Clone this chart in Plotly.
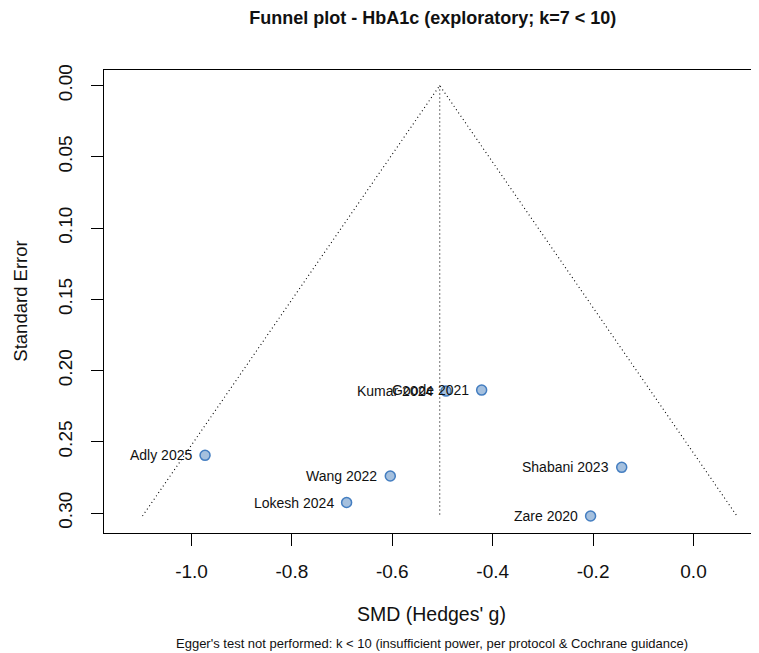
import plotly.graph_objects as go

# ---- data ----
studies = ["Adly 2025", "Wang 2022", "Lokesh 2024", "Kumar 2024", "Goode 2021", "Shabani 2023", "Zare 2020"]
smd = [-0.973, -0.604, -0.691, -0.493, -0.422, -0.143, -0.205]
se = [0.2595, 0.2740, 0.2926, 0.2144, 0.2137, 0.2679, 0.3021]
pooled_smd = -0.5055
z_crit = 1.96
x_ticks = [-1.0, -0.8, -0.6, -0.4, -0.2, 0.0]
y_ticks = [0.00, 0.05, 0.10, 0.15, 0.20, 0.25, 0.30]

title_text = "Funnel plot - HbA1c (exploratory; k=7 < 10)"
x_title = "SMD (Hedges' g)"
y_title = "Standard Error"
footnote = "Egger's test not performed: k < 10 (insufficient power, per protocol & Cochrane guidance)"

FONT = "Liberation Sans, Arial, Helvetica, sans-serif"

se_max = max(se)
funnel_x = [pooled_smd - z_crit * se_max, pooled_smd, pooled_smd + z_crit * se_max]
funnel_y = [se_max, 0.0, se_max]

fig = go.Figure()

# funnel (pseudo 95% CI) lines
fig.add_trace(go.Scatter(
    x=funnel_x, y=funnel_y, mode="lines",
    line=dict(color="black", width=1.1, dash="1px,3px"),
    hoverinfo="skip", showlegend=False))
# pooled estimate vertical line
fig.add_trace(go.Scatter(
    x=[pooled_smd, pooled_smd], y=[0.0, se_max], mode="lines",
    line=dict(color="black", width=1.1, dash="1px,3px"),
    hoverinfo="skip", showlegend=False))

# study points
fig.add_trace(go.Scatter(
    x=smd, y=se, mode="markers", text=studies,
    marker=dict(size=10, color="rgba(75,130,190,0.5)",
                line=dict(color="rgba(60,120,190,0.95)", width=1.5)),
    showlegend=False))

annotations = []
for name, xv, yv in zip(studies, smd, se):
    annotations.append(dict(
        x=xv, y=yv, xref="x", yref="y", text=name, showarrow=False,
        xanchor="right", yanchor="middle", xshift=-11,
        font=dict(family=FONT, size=14, color="#111111")))

# axis titles and footnote (paper coords; plot area 655 x 463 px)
annotations.append(dict(
    x=0.5, y=-0.175, xref="paper", yref="paper", text=x_title, showarrow=False,
    xanchor="center", yanchor="middle", font=dict(family=FONT, size=19.5, color="#111111")))
annotations.append(dict(
    x=-0.128, y=0.5, xref="paper", yref="paper", text=y_title, showarrow=False,
    textangle=-90, xanchor="center", yanchor="middle",
    font=dict(family=FONT, size=18.5, color="#111111")))
annotations.append(dict(
    x=0.5, y=-0.238, xref="paper", yref="paper", text=footnote, showarrow=False,
    xanchor="center", yanchor="middle", font=dict(family=FONT, size=13, color="#111111")))

# page body has an 8px margin, so the figure is sized/offset to compensate
fig.update_layout(
    width=751, height=645,
    margin=dict(l=96, r=0, t=62, b=120),
    paper_bgcolor="white", plot_bgcolor="white",
    title=dict(text="<b>" + title_text + "</b>", xref="paper", x=0.502,
               yref="container", y=1 - 10 / 645, xanchor="center", yanchor="middle",
               font=dict(family=FONT, size=18, color="#111111")),
    annotations=annotations,
    font=dict(family=FONT, color="#111111"),
)

fig.update_xaxes(
    range=[-1.1743, 0.1305], tickvals=x_ticks, ticktext=[f"{v:.1f}" for v in x_ticks],
    showgrid=False, zeroline=False, showline=True, mirror=True,
    linecolor="black", linewidth=1.2,
    ticks="outside", ticklen=12, tickwidth=1.2, tickcolor="black",
    tickfont=dict(family=FONT, size=19, color="#111111"), ticklabelstandoff=9)

fig.update_yaxes(
    range=[0.3140, -0.0109], tickvals=y_ticks, ticktext=[f"{v:.2f}" for v in y_ticks],
    showgrid=False, zeroline=False, showline=True, mirror=False,
    linecolor="black", linewidth=1.2,
    ticks="outside", ticklen=12, tickwidth=1.2, tickcolor="black", tickangle=-90,
    tickfont=dict(family=FONT, size=19, color="#111111"), ticklabelstandoff=11)

fig.write_html("out.html")
